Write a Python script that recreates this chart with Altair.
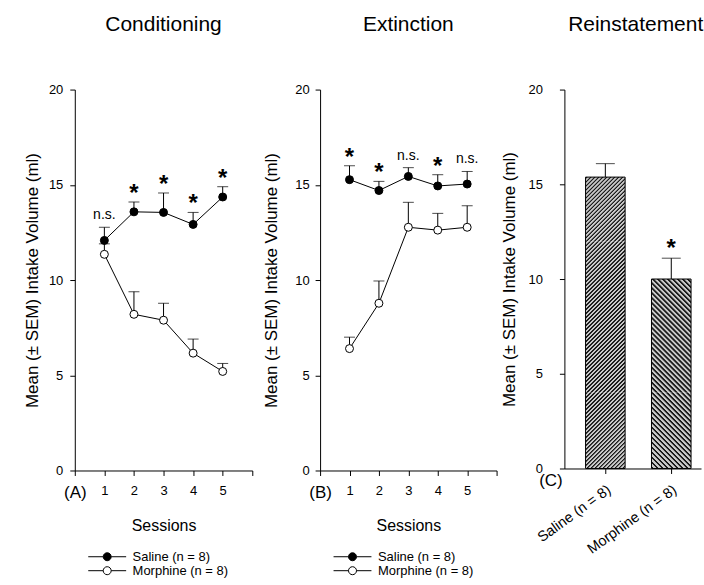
import math

import altair as alt
import pandas as pd

FONT = "Liberation Sans"

# ---- data -------------------------------------------------------------
sessions = [1, 2, 3, 4, 5]
groups = ["Saline (n = 8)", "Morphine (n = 8)"]
y_ticks = [0, 5, 10, 15, 20]

cond_saline = [12.08, 13.58, 13.55, 12.92, 14.36]
cond_saline_sem = [0.69, 0.52, 1.02, 0.63, 0.54]
cond_morphine = [11.35, 8.20, 7.89, 6.16, 5.20]
cond_morphine_sem = [0.55, 1.19, 0.89, 0.74, 0.42]
cond_marks = ["n.s.", "*", "*", "*", "*"]

ext_saline = [15.27, 14.70, 15.44, 14.94, 15.04]
ext_saline_sem = [0.73, 0.48, 0.46, 0.59, 0.66]
ext_morphine = [6.40, 8.78, 12.77, 12.62, 12.77]
ext_morphine_sem = [0.60, 1.17, 1.31, 0.88, 1.13]
ext_marks = ["*", "*", "n.s.", "*", "n.s."]

reinst_means = [15.38, 10.00]
reinst_sem = [0.71, 1.10]
reinst_marks = ["", "*"]

Y_TITLE = "Mean (\u00b1 SEM) Intake Volume (ml)"

# ---- layout -------------------------------------------------------------
LINE_W_A, LINE_W_B, LINE_H = 178, 177, 382
BAR_W, BAR_H = 137, 380
PAD_INNER, PAD_OUTER, BAND_ALIGN = 0.4, 0.236, 0.68
BAND = BAR_W / (len(groups) - PAD_INNER + 2 * PAD_OUTER) * (1 - PAD_INNER)
Y_MAX = y_ticks[-1]
HATCH_SLICE = 4          # bars are hatched in slices of this many ml
HATCH_PERIODS = 32       # stripe periods held by one gradient

# legend symbol: a short line with the marker in the middle
LEGEND_PATH = "M-4.75,0L-1,0M1,0L4.75,0M1,0A1,1,0,1,1,-1,0A1,1,0,1,1,1,0Z"


def session_frames(sal, sal_sem, mor, mor_sem, marks):
    rows = []
    for g, means, sems in ((groups[0], sal, sal_sem), (groups[1], mor, mor_sem)):
        for s, m, e in zip(sessions, means, sems):
            rows.append({"session": s, "group": g, "mean": m, "top": m + e})
    df = pd.DataFrame(rows)
    tops = df.groupby("session")["top"].max()
    ann = pd.DataFrame({"session": sessions, "label": marks,
                        "y": [tops[s] for s in sessions]})
    return df, ann


def session_panel(title, letter, frames, title_pad, label_pad, width):
    df, ann = frames
    x_axis = alt.Axis(
        values=[0, 1, 2, 3, 4, 5, 6],
        labelExpr=f"datum.value == 0 ? '({letter})' : datum.value == 6 ? '' : datum.label",
        labelFontSize={"condition": {"test": "datum.value == 0", "value": 17}, "value": 13},
        labelFlush=False,
        labelPadding=9,
        title="Sessions",
        titleFontSize=16,
        titlePadding=17,
    )
    x = alt.X("session:Q", scale=alt.Scale(domain=[0, 6], nice=False, zero=False), axis=x_axis)

    def y(field):
        return alt.Y(field, scale=alt.Scale(domain=[0, Y_MAX], nice=False),
                     axis=alt.Axis(values=y_ticks, title=Y_TITLE,
                                   titlePadding=title_pad, labelPadding=label_pad))

    base = alt.Chart(df)
    err = base.mark_rule(color="black", strokeWidth=1).encode(x=x, y=y("mean:Q"), y2="top:Q")
    cap = base.mark_tick(orient="horizontal", size=11, thickness=1, color="black").encode(
        x=x, y=y("top:Q"))
    line = base.mark_line(color="black", strokeWidth=1).encode(
        x=x, y=y("mean:Q"), detail="group:N")
    pts = base.mark_point(shape="circle", filled=True, size=64, stroke="black",
                          strokeWidth=1, opacity=1).encode(
        x=x, y=y("mean:Q"),
        fill=alt.Fill("group:N", scale=alt.Scale(domain=groups, range=["black", "white"]),
                      legend=alt.Legend(title=None, orient="none", legendX=26, legendY=462,
                                        direction="vertical", symbolType=LEGEND_PATH,
                                        symbolSize=64, symbolStrokeColor="black",
                                        symbolStrokeWidth=1, symbolOpacity=1,
                                        labelFontSize=13, labelOffset=19, rowPadding=0,
                                        padding=0, labelColor="black")))
    stars = alt.Chart(ann[ann["label"] == "*"]).mark_text(
        fontSize=24, fontWeight="bold", baseline="alphabetic", dy=-1, color="black").encode(
        x=x, y=y("y:Q"), text="label:N")
    ns = alt.Chart(ann[ann["label"] == "n.s."]).mark_text(
        fontSize=14, baseline="alphabetic", dy=-8, color="black").encode(
        x=x, y=y("y:Q"), text="label:N")
    return alt.layer(err, cap, line, pts, stars, ns).properties(
        width=width, height=LINE_H, title=title)


# stripe profile over one period: (fraction of period, grey level)
LIGHT, DARK = 0xC9, 0x1C
PROFILE = [(0.0, LIGHT), (0.12, DARK), (0.45, DARK), (0.57, LIGHT), (1.0, LIGHT)]


def grey_at(u, period):
    f = (u % period) / period
    for (f0, g0), (f1, g1) in zip(PROFILE[:-1], PROFILE[1:]):
        if f0 <= f <= f1:
            return g0 + (g1 - g0) * (f - f0) / (f1 - f0)
    return LIGHT


def hexgrey(g):
    v = int(round(g))
    return f"#{v:02x}{v:02x}{v:02x}"


def stripe_gradient(w, h, period, rising, phase):
    """Linear gradient drawing 45-degree stripes across a w x h box.

    Gradients use bounding-box units, so the vector is picked to keep the
    iso-lines at 45 degrees on screen; `phase` keeps stripes continuous
    between stacked slices.
    """
    span = HATCH_PERIODS * period
    c = span / (w * w + h * h)
    knots = {0.0, float(span)}
    m0 = math.floor(phase / period) - 1
    for m in range(m0, m0 + HATCH_PERIODS + 3):
        for f, _ in PROFILE[:-1]:
            s = (m + f) * period - phase
            if 0 < s < span:
                knots.add(s)
    stops = [{"offset": s / span, "color": hexgrey(grey_at(s + phase, period))}
             for s in sorted(knots)]
    if rising:
        coords = {"x1": 0, "y1": 0, "x2": c * w, "y2": c * h}
    else:
        coords = {"x1": 0, "y1": 1, "x2": c * w, "y2": 1 - c * h}
    return {"gradient": "linear", "stops": stops, **coords}


def reinstatement_panel():
    df = pd.DataFrame({"group": groups, "mean": reinst_means,
                       "top": [m + e for m, e in zip(reinst_means, reinst_sem)],
                       "label": reinst_marks})
    x = alt.X("group:N", sort=groups,
              scale=alt.Scale(paddingInner=PAD_INNER, paddingOuter=PAD_OUTER, align=BAND_ALIGN),
              axis=alt.Axis(labelAngle=324, labelAlign="right", labelBaseline="top",
                            labelFontSize=14.5, labelPadding=9,
                            title="(C)", titleX=-14, titleY=12, titleAngle=0,
                            titleAlign="center", titleBaseline="middle", titleFontSize=17))

    def y(field):
        return alt.Y(field, scale=alt.Scale(domain=[0, Y_MAX], nice=False),
                     axis=alt.Axis(values=y_ticks, title=Y_TITLE,
                                   titlePadding=10, labelPadding=17))

    px_per_unit = BAR_H / Y_MAX
    layers = []
    # hatched fill, laid down slice by slice from the baseline to the bar top
    for i, (g, m) in enumerate(zip(groups, reinst_means)):
        rising = i == 0
        period = 4.0 if rising else 5.0
        edges = [k * HATCH_SLICE for k in range(int(m // HATCH_SLICE) + 1)]
        if edges[-1] < m:
            edges.append(m)
        for lo, hi in zip(edges[:-1], edges[1:]):
            h = (hi - lo) * px_per_unit
            y_top = (Y_MAX - hi) * px_per_unit
            phase = y_top if rising else -(y_top + h)
            piece = pd.DataFrame({"group": [g], "lo": [lo], "hi": [hi]})
            layers.append(
                alt.Chart(piece).mark_bar(
                    fill=stripe_gradient(BAND, h, period, rising, phase), strokeWidth=0)
                .encode(x=x, y=y("lo:Q"), y2="hi:Q"))
    outline = alt.Chart(df).mark_bar(fillOpacity=0, stroke="black", strokeWidth=1).encode(
        x=x, y=y("mean:Q"))
    base = alt.Chart(df)
    err = base.mark_rule(color="black", strokeWidth=1).encode(x=x, y=y("mean:Q"), y2="top:Q")
    cap = base.mark_tick(orient="horizontal", size=19, thickness=1, color="black").encode(
        x=x, y=y("top:Q"))
    stars = alt.Chart(df[df["label"] == "*"]).mark_text(
        fontSize=24, fontWeight="bold", baseline="alphabetic", dy=-2, color="black").encode(
        x=x, y=y("top:Q"), text="label:N")
    return alt.layer(err, cap, *layers, outline, stars).properties(
        width=BAR_W, height=BAR_H,
        title=alt.TitleParams("Reinstatement", dx=3))


panel_a = session_panel("Conditioning", "A",
                        session_frames(cond_saline, cond_saline_sem, cond_morphine,
                                       cond_morphine_sem, cond_marks), 7, 7, LINE_W_A)
panel_b = session_panel("Extinction", "B",
                        session_frames(ext_saline, ext_saline_sem, ext_morphine,
                                       ext_morphine_sem, ext_marks), 14, 6, LINE_W_B)
panel_c = reinstatement_panel()

chart = (
    alt.hconcat(panel_a, panel_b, panel_c, spacing=68, bounds="flush")
    .resolve_scale(fill="independent")
    .properties(padding={"left": 23, "top": 13, "right": 0, "bottom": 0})
    .configure(font=FONT)
    .configure_view(stroke=None)
    .configure_axis(grid=False, domainColor="black", tickColor="black", labelColor="black",
                    titleColor="black", tickSize=5, domainWidth=1, tickWidth=1,
                    labelFontSize=13, titleFontSize=17, titleFontWeight="normal")
    .configure_title(fontSize=21, fontWeight="normal", color="black", offset=49)
)

chart.save("out.html", embed_options={"renderer": "svg", "actions": False})
